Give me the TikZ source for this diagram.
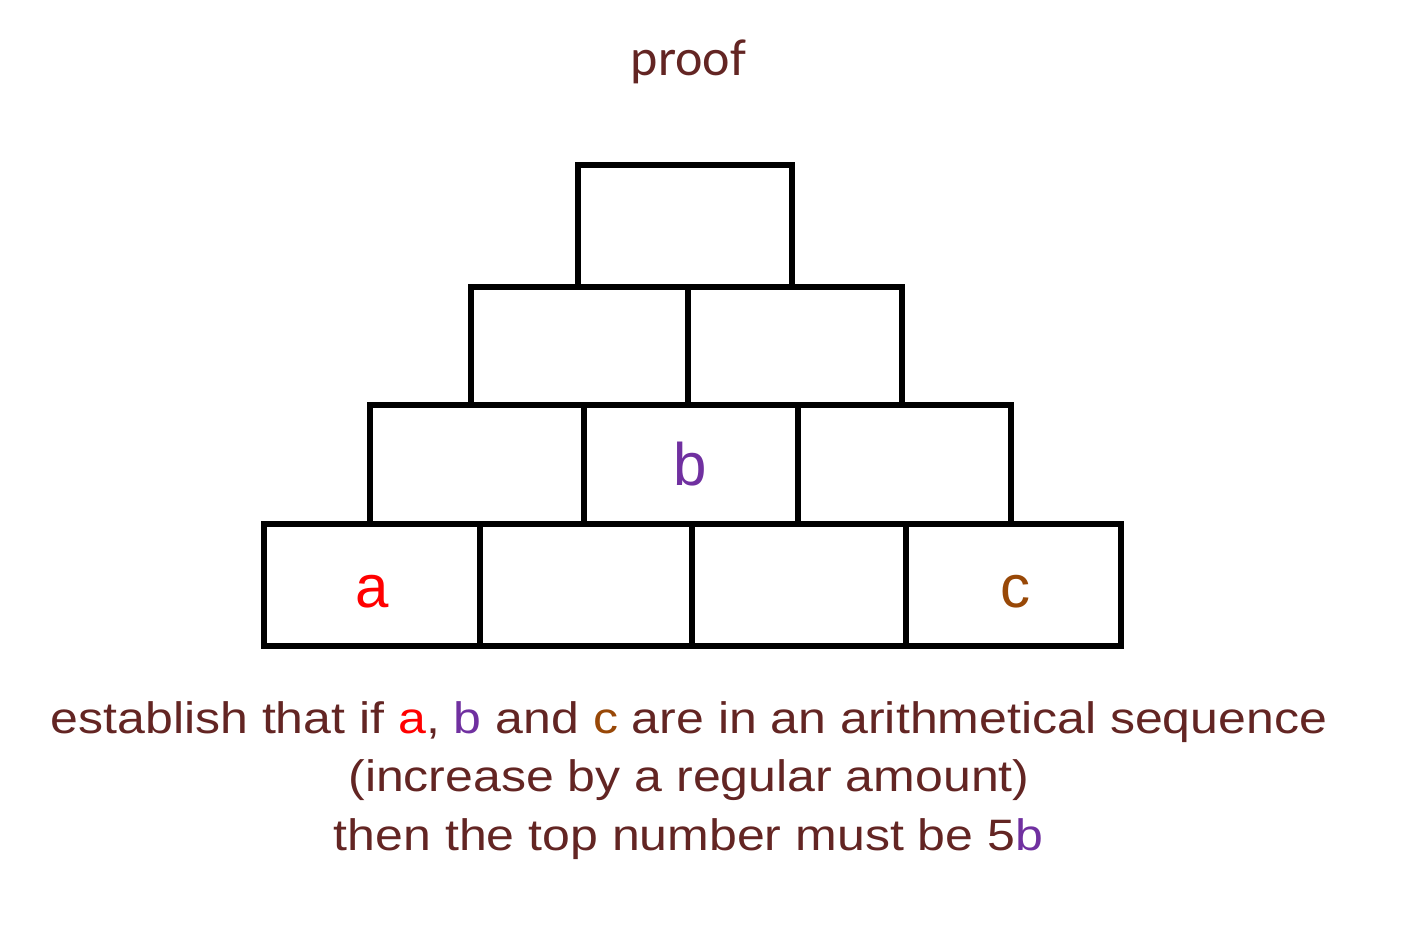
\documentclass[tikz,border=0pt]{standalone}
\usepackage{fontspec}
\setmainfont{Liberation Sans}
\newfontfamily\prooffont{Carlito}
\newfontfamily\capfont[FakeStretch=1.137]{Liberation Sans}
\definecolor{maroon}{HTML}{632523}
\definecolor{vpurple}{HTML}{7030A0}
\definecolor{vbrown}{HTML}{984807}
\definecolor{vred}{HTML}{FF0000}
\begin{document}
\begin{tikzpicture}[x=0.5pt,y=-0.5pt,
  brick/.style={draw=black,line width=3pt},
  var/.style={anchor=base,inner sep=0pt,font=\fontsize{30pt}{36pt}\selectfont},
  caption/.style={anchor=base,inner sep=0pt,text=maroon,font=\capfont\fontsize{22pt}{26pt}\selectfont}]
\useasboundingbox (0,0) rectangle (1402,938);
% row 1
\draw[brick] (578,165) rectangle (791.5,287);
% row 2
\draw[brick] (471,287) rectangle (688,404.7);
\draw[brick] (688,287) rectangle (902,404.7);
% row 3
\draw[brick] (369.7,404.7) rectangle (583.7,524);
\draw[brick] (583.7,404.7) rectangle (798,524);
\draw[brick] (798,404.7) rectangle (1011,524);
% row 4
\draw[brick] (264,524) rectangle (479.5,646);
\draw[brick] (479.5,524) rectangle (692,646);
\draw[brick] (692,524) rectangle (906,646);
\draw[brick] (906,524) rectangle (1121,646);
% labels
\node[anchor=base,inner sep=0pt,text=maroon,font=\prooffont\fontsize{26pt}{31pt}\selectfont] (title) at (688.5,75) {proof};
\node[var,text=vpurple] (b) at (690,485) {b};
\node[var,text=vred] (a) at (372,607) {a};
\node[var,text=vbrown] (c) at (1015,607) {c};
\node[caption] (l1) at (689,733) {establish that if \textcolor{vred}{a}, \textcolor{vpurple}{b} and \textcolor{vbrown}{c} are in an arithmetical sequence};
\node[caption] (l2) at (689,791) {(increase by a regular amount)};
\node[caption] (l3) at (688.5,850) {then the top number must be 5\textcolor{vpurple}{b}};
\end{tikzpicture}
\end{document}
